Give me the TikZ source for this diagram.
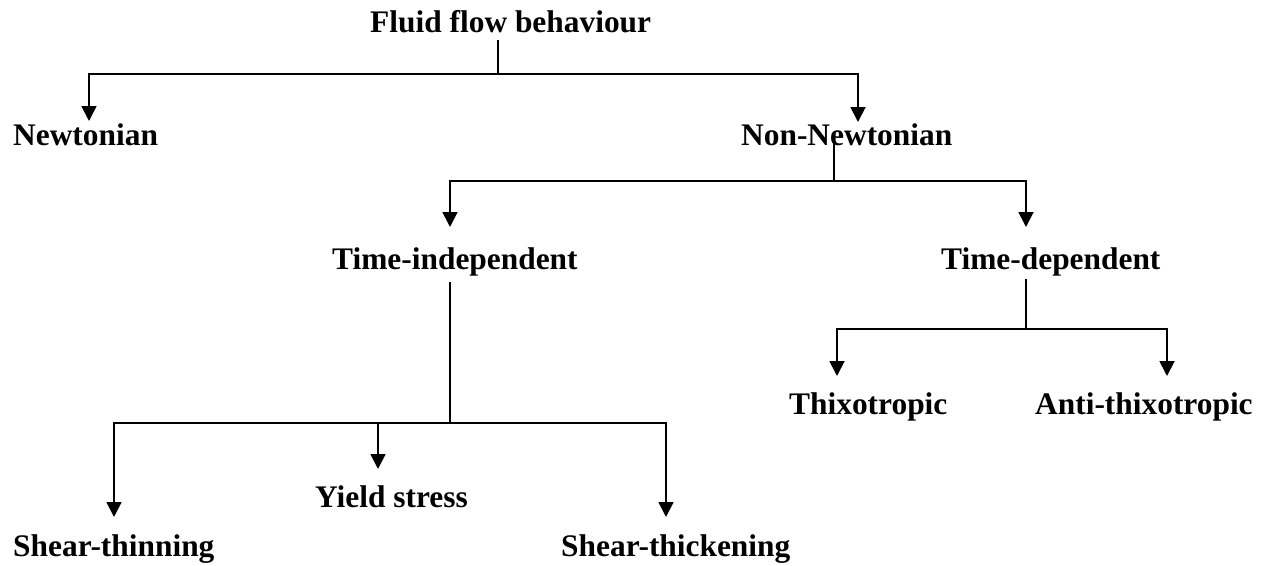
\documentclass[tikz,border=0pt]{standalone}
\usepackage{fontspec}
\setmainfont{Liberation Serif}
\usetikzlibrary{arrows.meta}
\begin{document}
\begin{tikzpicture}[x=1pt,y=-1pt,
  lbl/.style={anchor=base west, inner sep=0pt, font=\fontsize{31.4}{34}\selectfont\bfseries},
  ln/.style={line width=1.8pt},
  arr/.style={ln,-{Triangle[length=15pt,width=15pt]}}]
\useasboundingbox (0,0) rectangle (1274,565);
% nodes
\node[lbl] (fluid)   at (370,32)  {Fluid flow behaviour};
\node[lbl] (newt)    at (13,145)  {Newtonian};
\node[lbl] (nonnewt) at (741,145) {Non-Newtonian};
\node[lbl] (tind)    at (332,269) {Time-independent};
\node[lbl] (tdep)    at (941,269) {Time-dependent};
\node[lbl] (thixo)   at (789,414) {Thixotropic};
\node[lbl] (anti)    at (1035,414) {Anti-thixotropic};
\node[lbl] (yield)   at (315,507) {Yield stress};
\node[lbl] (thin)    at (13,556)  {Shear-thinning};
\node[lbl] (thick)   at (561,556) {Shear-thickening};
% junctions and arrow ends
\coordinate (j1) at (498,74);
\coordinate (j2) at (834,181);
\coordinate (j3) at (450,423);
\coordinate (j4) at (1026,329);
\coordinate (aNewt) at (89,121);
\coordinate (aNon)  at (858,122);
\coordinate (aTind) at (450,227);
\coordinate (aTdep) at (1026,227);
\coordinate (aThin) at (114,517);
\coordinate (aYld)  at (378,469);
\coordinate (aThk)  at (666,517);
\coordinate (aThx)  at (837,376);
\coordinate (aAnti) at (1167,376);
% connectors
\draw[ln] ([yshift=-8pt]fluid.base -| j1) -- (j1);
\draw[arr] (j1) -| (aNewt);
\draw[arr] (j1) -| (aNon);
\draw[ln] ([yshift=2pt]nonnewt.base -| j2) -- (j2);
\draw[arr] (j2) -| (aTind);
\draw[arr] (j2) -| (aTdep);
\draw[ln] ([yshift=-13pt]tind.base -| j3) -- (j3);
\draw[arr] (j3) -| (aThin);
\draw[arr] (j3) -| (aYld);
\draw[arr] (j3) -| (aThk);
\draw[ln] ([yshift=-10pt]tdep.base -| j4) -- (j4);
\draw[arr] (j4) -| (aThx);
\draw[arr] (j4) -| (aAnti);
\end{tikzpicture}
\end{document}
